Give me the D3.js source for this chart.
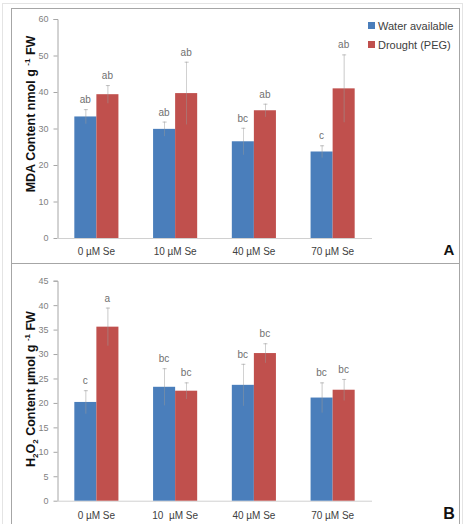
<!DOCTYPE html>
<html><head><meta charset="utf-8">
<script src="https://cdn.jsdelivr.net/npm/d3@7/dist/d3.min.js"></script>
<style>body{margin:0;background:#fff}svg{display:block}</style>
</head><body>
<svg id="c" width="465" height="524"></svg>
<script>
const categoriesA = ["0 µM Se", "10 µM Se", "40 µM Se", "70 µM Se"];
const categoriesB = ["0 µM Se", "10  µM Se", "40 µM Se", "70 µM Se"];
const seriesNames = ["Water available", "Drought (PEG)"];
const colors = ["#4a7ebb", "#c0504d"];
// Panel A: MDA
const mdaWater = [33.3, 29.9, 26.5, 23.7];
const mdaWaterErr = [2.0, 2.0, 3.7, 1.7];
const mdaDrought = [39.4, 39.7, 35.0, 41.0];
const mdaDroughtErr = [2.5, 8.6, 1.8, 9.3];
const mdaLettersWater = ["ab", "ab", "bc", "c"];
const mdaLettersDrought = ["ab", "ab", "ab", "ab"];
const mdaTicks = [0, 10, 20, 30, 40, 50, 60];
// Panel B: H2O2
const h2o2Water = [20.2, 23.3, 23.7, 21.1];
const h2o2WaterErr = [2.4, 3.8, 4.3, 3.1];
const h2o2Drought = [35.6, 22.5, 30.2, 22.7];
const h2o2DroughtErr = [3.9, 1.7, 2.0, 2.2];
const h2o2LettersWater = ["c", "bc", "bc", "bc"];
const h2o2LettersDrought = ["a", "bc", "bc", "bc"];
const h2o2Ticks = [0, 5, 10, 15, 20, 25, 30, 35, 40, 45];

const svg = d3.select("#c");
const font = "Liberation Sans, Arial, sans-serif";

// frames
svg.append("rect").attr("x", 2.5).attr("y", 3.5).attr("width", 460).attr("height", 530)
  .attr("fill", "none").attr("stroke", "#e4e4e4");
svg.append("rect").attr("x", 11.5).attr("y", 8.5).attr("width", 448).attr("height", 530)
  .attr("fill", "none").attr("stroke", "#a6a6a6");
svg.append("line").attr("x1", 11.5).attr("x2", 459.5).attr("y1", 263.5).attr("y2", 263.5)
  .attr("stroke", "#a6a6a6");

function panel(cfg) {
  const g = svg.append("g");
  const x0 = d3.scaleBand().domain(cfg.cats).range([57, 372]).paddingInner(0.44).paddingOuter(0.22);
  const x1 = d3.scaleBand().domain([0, 1]).range([0, x0.bandwidth()]);
  const y = d3.scaleLinear().domain([0, cfg.max]).range([cfg.y0, cfg.y1]);

  // y axis
  const ya = g.append("g").attr("transform", "translate(57.5,0)")
    .call(d3.axisLeft(y).tickValues(cfg.ticks).tickSize(4).tickPadding(5));
  ya.select(".domain").attr("stroke", "#a6a6a6").attr("d", `M-4,${y(cfg.max)+0.5}H0.5V${y(0)+0.5}`);
  ya.selectAll(".tick line").attr("stroke", "#a6a6a6");
  ya.selectAll(".tick text").attr("fill", "#7f7f7f").attr("font-size", 9).attr("font-family", font);
  // x axis
  g.append("line").attr("x1", 57).attr("x2", 372).attr("y1", y(0) + 0.5).attr("y2", y(0) + 0.5)
    .attr("stroke", "#d0d0d0");
  const xa = g.append("g").attr("transform", `translate(0,${y(0)})`)
    .call(d3.axisBottom(x0).tickSize(0).tickPadding(cfg.xpad));
  xa.select(".domain").remove();
  xa.selectAll(".tick text").attr("fill", "#404040").attr("font-size", 10).attr("font-family", font)
    .style("white-space", "pre");

  const data = [cfg.water, cfg.drought], errs = [cfg.waterErr, cfg.droughtErr],
        letters = [cfg.lw, cfg.ld];
  [0, 1].forEach(s => {
    const gs = g.append("g");
    gs.selectAll("rect").data(cfg.cats).join("rect")
      .attr("x", c => x0(c) + x1(s)).attr("width", x1.bandwidth())
      .attr("y", (c, i) => y(data[s][i])).attr("height", (c, i) => y(0) - y(data[s][i]))
      .attr("fill", colors[s]);
    gs.selectAll("line.err").data(cfg.cats).join("line").attr("class", "err")
      .attr("x1", c => x0(c) + x1(s) + x1.bandwidth() / 2 + 0.5)
      .attr("x2", c => x0(c) + x1(s) + x1.bandwidth() / 2 + 0.5)
      .attr("y1", (c, i) => y(data[s][i] + errs[s][i]))
      .attr("y2", (c, i) => y(data[s][i] - errs[s][i]))
      .attr("stroke", "#9a9a9a").attr("stroke-width", 0.7).attr("opacity", 0.75);
    gs.selectAll("line.cap").data(cfg.cats).join("line").attr("class", "cap")
      .attr("x1", c => x0(c) + x1(s) + x1.bandwidth() / 2 - 1.5)
      .attr("x2", c => x0(c) + x1(s) + x1.bandwidth() / 2 + 2.5)
      .attr("y1", (c, i) => y(data[s][i] + errs[s][i]) + 0.5)
      .attr("y2", (c, i) => y(data[s][i] + errs[s][i]) + 0.5)
      .attr("stroke", "#9a9a9a").attr("stroke-width", 0.6);
    gs.selectAll("text").data(cfg.cats).join("text")
      .attr("x", c => x0(c) + x1(s) + x1.bandwidth() / 2)
      .attr("y", (c, i) => y(data[s][i] + errs[s][i]) - 6)
      .attr("text-anchor", "middle").attr("font-size", 10).attr("font-family", font)
      .attr("fill", "#707070").text((c, i) => letters[s][i]);
  });

  // panel letter
  g.append("text").attr("x", 449).attr("y", cfg.letterY).attr("text-anchor", "middle")
    .attr("font-size", cfg.letterSize).attr("font-weight", "bold").attr("font-family", font)
    .attr("fill", "#111").text(cfg.letter);
  return g;
}

const gA = panel({cats: categoriesA, max: 60, y0: 238, y1: 19, ticks: mdaTicks,
  water: mdaWater, waterErr: mdaWaterErr, drought: mdaDrought, droughtErr: mdaDroughtErr,
  lw: mdaLettersWater, ld: mdaLettersDrought, xpad: 10, letter: "A", letterY: 255, letterSize: 15});
const gB = panel({cats: categoriesB, max: 45, y0: 500.7, y1: 280.7, ticks: h2o2Ticks,
  water: h2o2Water, waterErr: h2o2WaterErr, drought: h2o2Drought, droughtErr: h2o2DroughtErr,
  lw: h2o2LettersWater, ld: h2o2LettersDrought, xpad: 11, letter: "B", letterY: 519, letterSize: 16});

// y titles
const tA = svg.append("text").attr("transform", "translate(35,114) rotate(-90)")
  .attr("text-anchor", "middle").attr("font-size", 12.5).attr("font-weight", "bold")
  .attr("font-family", font).attr("fill", "#111");
tA.append("tspan").text("MDA Content nmol g ");
tA.append("tspan").attr("font-size", 8).attr("dy", -5).text("-1");
tA.append("tspan").attr("dy", 5).text(" FW");

const tB = svg.append("text").attr("transform", "translate(35,389) rotate(-90)")
  .attr("text-anchor", "middle").attr("font-size", 12.5).attr("font-weight", "bold")
  .attr("font-family", font).attr("fill", "#111");
tB.append("tspan").text("H");
tB.append("tspan").attr("font-size", 8).attr("dy", 3).text("2");
tB.append("tspan").attr("dy", -3).text("O");
tB.append("tspan").attr("font-size", 8).attr("dy", 3).text("2");
tB.append("tspan").attr("dy", -3).text(" Content µmol g ");
tB.append("tspan").attr("font-size", 8).attr("dy", -5).text("-1");
tB.append("tspan").attr("dy", 5).text(" FW");

// legend
const leg = svg.append("g");
seriesNames.forEach((n, i) => {
  leg.append("rect").attr("x", 368).attr("y", 22 + i * 19).attr("width", 7).attr("height", 7)
    .attr("fill", colors[i]);
  leg.append("text").attr("x", 378).attr("y", 29.5 + i * 19).attr("font-size", 11)
    .attr("font-family", font).attr("fill", "#404040").text(n);
});
</script>
</body></html>
